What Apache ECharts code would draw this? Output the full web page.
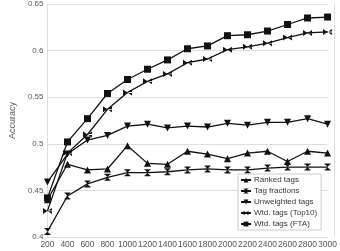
<!DOCTYPE html>
<html>
<head>
<meta charset="utf-8">
<script src="https://cdn.jsdelivr.net/npm/echarts@6/dist/echarts.min.js"></script>
<style>
  html, body { margin: 0; padding: 0; background: #fff; }
  #chart { width: 340px; height: 251px; }
</style>
</head>
<body>
<div id="chart"></div>
<script>
// training set size on the x axis
const sizes = [200, 400, 600, 800, 1000, 1200, 1400, 1600, 1800, 2000, 2200, 2400, 2600, 2800, 3000];

const rankedTags = [0.440, 0.478, 0.472, 0.473, 0.498, 0.479, 0.478, 0.492, 0.489, 0.484, 0.490, 0.492, 0.481, 0.492, 0.490];
const tagFractions = [0.406, 0.444, 0.457, 0.464, 0.469, 0.469, 0.470, 0.472, 0.473, 0.472, 0.472, 0.474, 0.475, 0.475, 0.475];
const unweightedTags = [0.459, 0.489, 0.504, 0.509, 0.519, 0.521, 0.517, 0.519, 0.518, 0.522, 0.520, 0.523, 0.523, 0.527, 0.521];
const wtdTop10 = [0.428, 0.490, 0.510, 0.537, 0.555, 0.567, 0.575, 0.587, 0.591, 0.601, 0.604, 0.608, 0.614, 0.619, 0.620];
const wtdFTA = [0.442, 0.502, 0.527, 0.554, 0.569, 0.580, 0.590, 0.602, 0.605, 0.616, 0.617, 0.621, 0.628, 0.635, 0.636];

const seriesNames = ['Ranked tags', 'Tag fractions', 'Unweighted tags', 'Wtd. tags (Top10)', 'Wtd. tags (FTA)'];

const BOWTIE = 'path://M0,0 L10,5 L0,10 Z M20,0 L10,5 L20,10 Z M0,4.3 L20,4.3 L20,5.7 L0,5.7 Z';
const HOURGLASS = 'path://M0,0 L10,0 L5,5 L10,10 L0,10 L5,5 Z M0,0 L10,0 L10,1.5 L0,1.5 Z M0,8.5 L10,8.5 L10,10 L0,10 Z';

const ink = '#111';
const axisText = '#555';
const gridCol = '#ddd';

function mk(name, data, symbol, size, rotate) {
  return {
    name,
    type: 'line',
    data: sizes.map((s, i) => [s, data[i]]),
    symbol,
    symbolSize: size,
    symbolRotate: rotate || 0,
    showAllSymbol: true,
    lineStyle: { color: ink, width: 1.3 },
    itemStyle: { color: ink },
    z: 3,
  };
}

const chart = echarts.init(document.getElementById('chart'), null, { renderer: 'canvas' });
chart.setOption({
  animation: false,
  backgroundColor: '#fff',
  grid: { left: 26, right: 6, top: 3, bottom: 14, containLabel: false },
  xAxis: {
    type: 'value',
    min: 200, max: 3000, interval: 200,
    axisLabel: { color: axisText, fontSize: 8.5, fontFamily: 'Liberation Sans', margin: 3,
      showMaxLabel: true, showMinLabel: true, hideOverlap: false, formatter: v => String(v) },
    axisLine: { show: true, lineStyle: { color: gridCol } },
    axisTick: { show: false },
    splitLine: { show: false },
  },
  yAxis: {
    type: 'value',
    min: 0.4, max: 0.65, interval: 0.05,
    name: 'Accuracy',
    nameLocation: 'middle',
    nameGap: 20,
    nameTextStyle: { color: axisText, fontSize: 9, fontFamily: 'Liberation Sans' },
    axisLabel: { color: axisText, fontSize: 8, fontFamily: 'Liberation Sans', margin: 4,
      formatter: v => String(+v.toFixed(2)) },
    axisLine: { show: true, lineStyle: { color: gridCol } },
    axisTick: { show: false },
    splitLine: { lineStyle: { color: gridCol } },
  },
  legend: {
    data: seriesNames,
    orient: 'vertical',
    left: 238, top: 174,
    itemWidth: 10, itemHeight: 6, itemGap: 3,
    padding: [2, 4, 2, 2],
    borderColor: '#ccc', borderWidth: 1,
    backgroundColor: '#fff',
    textStyle: { color: '#333', fontSize: 8, fontFamily: 'Liberation Sans', padding: [0, 0, 0, -2] },
  },
  series: [
    mk(seriesNames[0], rankedTags, 'triangle', 7),
    mk(seriesNames[1], tagFractions, HOURGLASS, [6, 7]),
    mk(seriesNames[2], unweightedTags, 'triangle', 7, 180),
    mk(seriesNames[3], wtdTop10, BOWTIE, [9, 6]),
    mk(seriesNames[4], wtdFTA, 'rect', 7),
  ],
  graphic: [{
    type: 'line', z: 1,
    shape: { x1: 334.5, y1: 3, x2: 334.5, y2: 237 },
    style: { stroke: gridCol, lineWidth: 1 },
  }],
});
</script>
</body>
</html>
